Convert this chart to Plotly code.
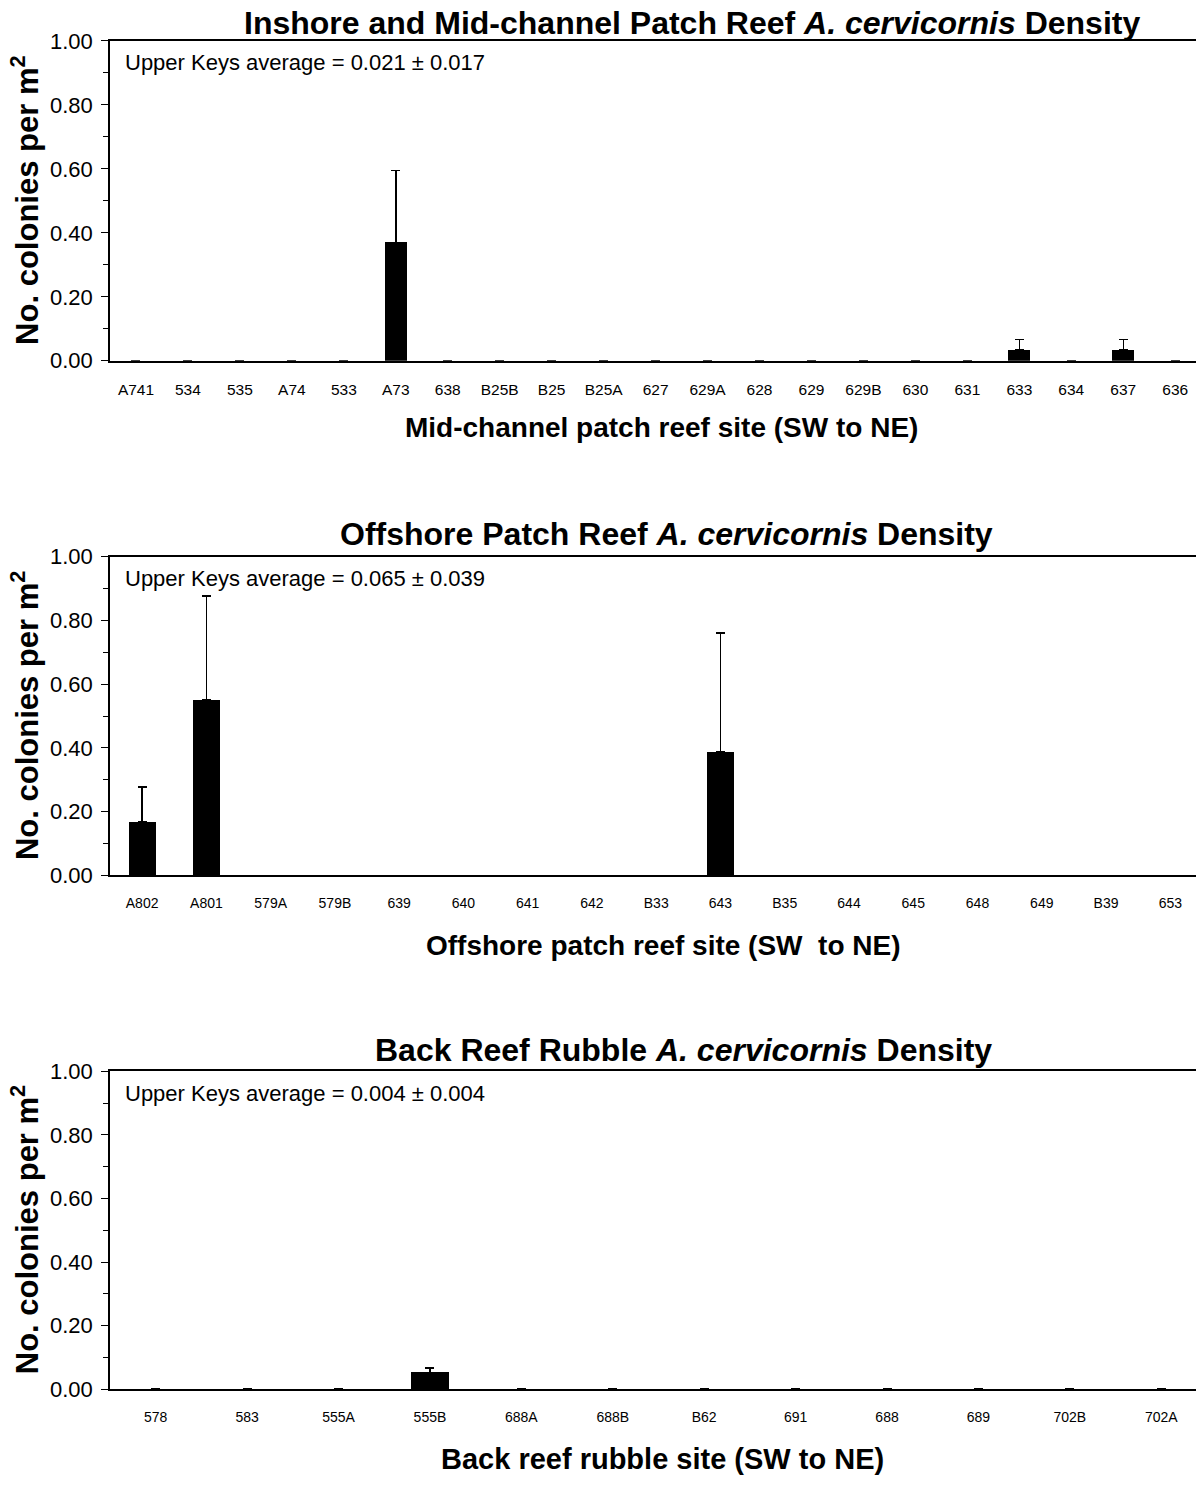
import plotly.graph_objects as go

# ---------------- data ----------------
sites1 = ["A741", "534", "535", "A74", "533", "A73", "638", "B25B", "B25", "B25A", "627",
          "629A", "628", "629", "629B", "630", "631", "633", "634", "637", "636"]
dens1 = [0, 0, 0, 0, 0, 0.37, 0, 0, 0, 0, 0, 0, 0, 0, 0, 0, 0, 0.035, 0, 0.035, 0]
err1 = [0, 0, 0, 0, 0, 0.225, 0, 0, 0, 0, 0, 0, 0, 0, 0, 0, 0, 0.032, 0, 0.032, 0]

sites2 = ["A802", "A801", "579A", "579B", "639", "640", "641", "642", "B33", "643", "B35",
          "644", "645", "648", "649", "B39", "653"]
dens2 = [0.17, 0.552, 0, 0, 0, 0, 0, 0, 0, 0.388, 0, 0, 0, 0, 0, 0, 0]
err2 = [0.108, 0.324, 0, 0, 0, 0, 0, 0, 0, 0.372, 0, 0, 0, 0, 0, 0, 0]

sites3 = ["578", "583", "555A", "555B", "688A", "688B", "B62", "691", "688", "689", "702B", "702A"]
dens3 = [0, 0, 0, 0.053, 0, 0, 0, 0, 0, 0, 0, 0]
err3 = [0, 0, 0, 0.013, 0, 0, 0, 0, 0, 0, 0, 0]

titles = ["Inshore and Mid-channel Patch Reef <i>A. cervicornis</i> Density",
          "Offshore Patch Reef <i>A. cervicornis</i> Density",
          "Back Reef Rubble <i>A. cervicornis</i> Density"]
xtitles = ["Mid-channel patch reef site (SW to NE)",
           "Offshore patch reef site (SW  to NE)",
           "Back reef rubble site (SW to NE)"]
averages = ["Upper Keys average = 0.021 ± 0.017",
            "Upper Keys average = 0.065 ± 0.039",
            "Upper Keys average = 0.004 ± 0.004"]
ytitle = "No. colonies per m<sup>2</sup>"
yticks = [0.0, 0.2, 0.4, 0.6, 0.8, 1.0]

# ---------------- layout geometry ----------------
W, H = 1196, 1486
FONT = "Liberation Sans, Arial, sans-serif"


def py(px):
    """Target pixel row -> paper fraction (compensating the page's vertical fit)."""
    spec = (px - 11.0) / 0.9838
    spec = min(max(spec, 0.0), H)
    return 1 - spec / H


panels = [  # (top px, bottom px, title y, title x, xtitle y, xtitle x, ticklabel size, x range end, xtitle size)
    (40, 360, 22, 692, 427, 661, 15.5, 20.4, 28),
    (556, 875, 533, 666, 945, 663, 14, 16.4, 28),
    (1071, 1389, 1050, 683, None, 662, 14, 11.38, 29),
]
x0 = 110 / W

fig = go.Figure()
data = [(sites1, dens1, err1), (sites2, dens2, err2), (sites3, dens3, err3)]
annotations = []
for i, ((cats, vals, errs), (top, bot, ty, tx, xty, xtx, tfs, xend, xts)) in enumerate(zip(data, panels)):
    n = i + 1
    xa = "x" if n == 1 else f"x{n}"
    ya = "y" if n == 1 else f"y{n}"
    fig.add_trace(go.Bar(
        x=cats, y=vals, xaxis=xa, yaxis=ya,
        marker=dict(color="black", line=dict(width=0)),
        width=0.42,
        error_y=dict(type="data", array=errs, symmetric=False, arrayminus=[0] * len(errs),
                     color="black", thickness=1.5, width=4.5),
        showlegend=False,
    ))
    fig.update_layout(**{
        ("xaxis" if n == 1 else f"xaxis{n}"): dict(
            domain=[x0, 1], anchor=ya, type="category",
            range=[-0.5, xend],
            showline=True, linecolor="black", linewidth=1.5, mirror=True,
            ticks="", showgrid=False, zeroline=False,
            tickfont=dict(family=FONT, size=tfs, color="black"),
            ticklabelstandoff=14,
        ),
        ("yaxis" if n == 1 else f"yaxis{n}"): dict(
            domain=[py(bot), py(top)], anchor=xa, range=[0, 1.0],
            tickvals=yticks, tickformat=".2f",
            showline=True, linecolor="black", linewidth=1.5,
            ticks="outside", ticklen=7, tickwidth=1.2, tickcolor="black",
            minor=dict(dtick=0.1, ticks="outside", ticklen=5, tickwidth=1.2, tickcolor="black"),
            showgrid=False, zeroline=False, ticklabelstandoff=4,
            tickfont=dict(family=FONT, size=22, color="black"),
        ),
    })
    annotations.append(dict(text=f"<b>{titles[i]}</b>", x=tx / W, y=py(ty),
                            xref="paper", yref="paper", showarrow=False,
                            xanchor="center", yanchor="middle",
                            font=dict(family=FONT, size=32, color="black")))
    if xty is None:
        annotations.append(dict(text=f"<b>{xtitles[i]}</b>", x=xtx / W, y=-3 / H,
                                xref="paper", yref="paper", showarrow=False,
                                xanchor="center", yanchor="bottom", borderpad=0,
                                font=dict(family=FONT, size=xts, color="black")))
    else:
        annotations.append(dict(text=f"<b>{xtitles[i]}</b>", x=xtx / W, y=py(xty),
                                xref="paper", yref="paper", showarrow=False,
                                xanchor="center", yanchor="middle",
                                font=dict(family=FONT, size=xts, color="black")))
    annotations.append(dict(text=f"<b>{ytitle}</b>", x=25 / W, y=py((top + bot) / 2),
                            xref="paper", yref="paper", showarrow=False, textangle=-90,
                            xanchor="center", yanchor="middle",
                            font=dict(family=FONT, size=31, color="black")))
    annotations.append(dict(text=averages[i], x=123 / W, y=py(top + 22),
                            xref="paper", yref="paper", showarrow=False,
                            xanchor="left", yanchor="middle",
                            font=dict(family=FONT, size=22, color="black")))

fig.update_layout(
    width=W, height=H,
    margin=dict(l=0, r=0, t=0, b=0),
    paper_bgcolor="white", plot_bgcolor="white",
    annotations=annotations,
    bargap=0,
    font=dict(family=FONT, color="black"),
)

fig.write_html("out.html",
               config={"responsive": False, "displayModeBar": False},
               post_script="document.body.style.margin='0';document.body.style.overflow='hidden';")
